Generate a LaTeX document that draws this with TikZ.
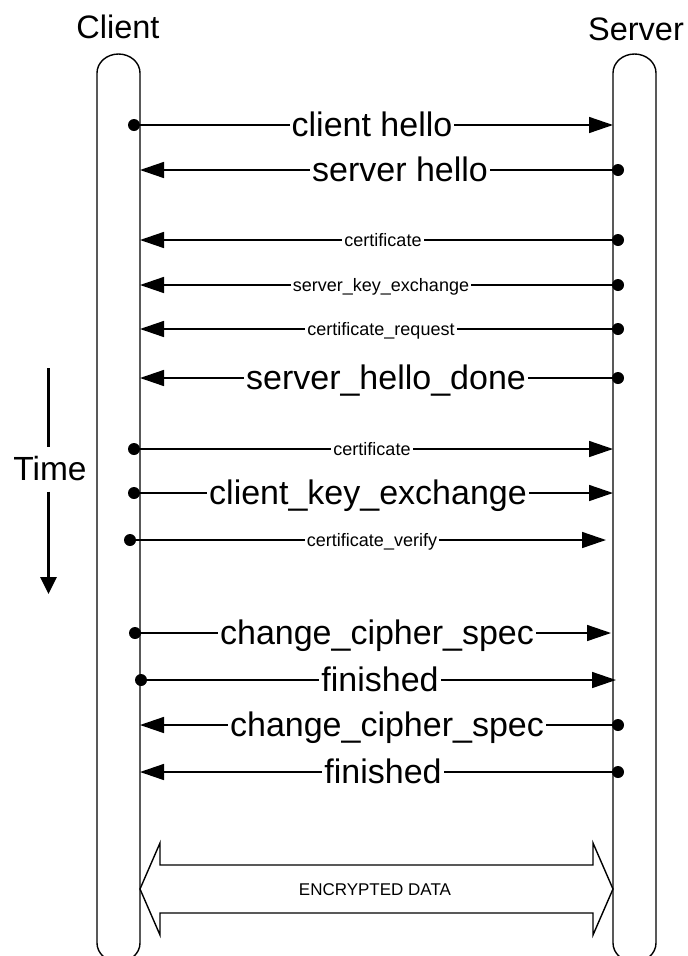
\documentclass[tikz,border=0pt]{standalone}
\usepackage{fontspec}
\setmainfont{Liberation Sans}
\usetikzlibrary{arrows.meta}
\begin{document}
\begin{tikzpicture}[x=1pt,y=-1pt,
  lifeline/.style={draw=black, line width=1.4pt},
  msg/.style={line width=1.5pt, -{Triangle[length=24pt,width=16pt]}},
  startdot/.style={fill=black},
  title/.style={font=\fontsize{32.5}{38}\selectfont, anchor=base, inner sep=0pt},
  biglabel/.style={font=\fontsize{34}{40}\selectfont, fill=white, anchor=base, inner xsep=2pt, inner ysep=1pt},
  smalllabel/.style={font=\fontsize{18}{22}\selectfont, fill=white, anchor=base, inner xsep=2pt, inner ysep=1pt},
  timearrow/.style={line width=3pt},
  datapipe/.style={draw=black, line width=1.4pt, line join=miter}]
\useasboundingbox (0,0) rectangle (688,956);
\clip (0,0) rectangle (688,956);

% party names
\node[title] (client) at (118,38) {Client};
\node[title] (server) at (636,40) {Server};

% rounded lifelines
\draw[lifeline] (97,943) -- (97,73) arc[start angle=180, end angle=360, x radius=21.5, y radius=19]
  -- (140,943) arc[start angle=0, end angle=180, x radius=21.5, y radius=19] -- cycle;
\draw[lifeline] (613,943) -- (613,73) arc[start angle=180, end angle=360, x radius=21.5, y radius=19]
  -- (656,943) arc[start angle=0, end angle=180, x radius=21.5, y radius=19] -- cycle;

% time axis
\coordinate (t0) at (48.5,368);
\node[font=\fontsize{33.5}{40}\selectfont, inner xsep=0pt, inner ysep=10pt] (time) at (50,469) {Time};
\coordinate (t1) at (48.5,594);
\draw[timearrow] (t0) -- (time.north -| t0);
\draw[timearrow, -{Triangle[length=17pt,width=16pt]}] (time.south -| t1) -- (t1);

% message endpoints
\coordinate (c1) at (134,125);  \coordinate (s1) at (613,125);
\coordinate (c2) at (140,170);  \coordinate (s2) at (618,170);
\coordinate (c3) at (140,240);  \coordinate (s3) at (618,240);
\coordinate (c4) at (140,285);  \coordinate (s4) at (618,285);
\coordinate (c5) at (140,329);  \coordinate (s5) at (618,329);
\coordinate (c6) at (140,378);  \coordinate (s6) at (618,378);
\coordinate (c7) at (134,449);  \coordinate (s7) at (613,449);
\coordinate (c8) at (134,493);  \coordinate (s8) at (613,493);
\coordinate (c9) at (130,540);  \coordinate (s9) at (606,540);
\coordinate (c10) at (135,633); \coordinate (s10) at (611,633);
\coordinate (c11) at (141,680); \coordinate (s11) at (616,680);
\coordinate (c12) at (140,725); \coordinate (s12) at (618,725);
\coordinate (c13) at (140,772); \coordinate (s13) at (618,772);

% client to server
\foreach \i in {1,7,8,9,10,11} {
  \fill[startdot] (c\i) circle[radius=6];
  \draw[msg] (c\i) -- (s\i);
}
% server to client
\foreach \i in {2,3,4,5,6,12,13} {
  \fill[startdot] (s\i) circle[radius=6];
  \draw[msg] (s\i) -- (c\i);
}

% message names
\node[biglabel]   (m1)  at (372,136) {client hello};
\node[biglabel]   (m2)  at (400,181) {server hello};
\node[smalllabel] (m3)  at (383,246) {certificate};
\node[smalllabel] (m4)  at (381,291) {server\_key\_exchange\hspace{8pt}};
\node[smalllabel] (m5)  at (381,335) {certificate\_request};
\node[biglabel]   (m6)  at (386,389) {server\_hello\_done};
\node[smalllabel] (m7)  at (372,455) {certificate};
\node[biglabel]   (m8)  at (368,504) {client\_key\_exchange};
\node[smalllabel] (m9)  at (372,546) {certificate\_verify};
\node[biglabel]   (m10) at (377,644) {change\_cipher\_spec};
\node[biglabel]   (m11) at (380,691) {finished};
\node[biglabel]   (m12) at (387,736) {change\_cipher\_spec};
\node[biglabel]   (m13) at (383,783) {finished};

% encrypted data channel
\draw[datapipe] (140,889) -- (160,843) -- (160,865) -- (593,865) -- (593,843) -- (613,889)
  -- (593,935) -- (593,913) -- (160,913) -- (160,935) -- cycle;
\node[font=\fontsize{17}{20}\selectfont, anchor=base, inner sep=0pt] (data) at (375,895) {ENCRYPTED DATA};
\end{tikzpicture}
\end{document}
